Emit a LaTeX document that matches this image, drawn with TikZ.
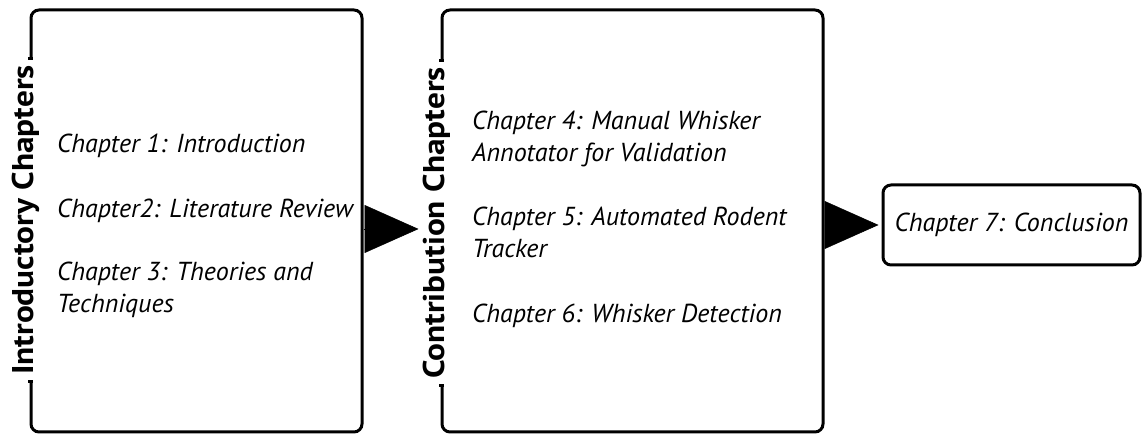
\documentclass[tikz,border=0pt]{standalone}
\usepackage{fontspec}
\setmainfont{PT Sans}
\newfontfamily\headfont[FakeStretch=1.11]{PT Sans}
\usetikzlibrary{arrows.meta,positioning}

\tikzset{
  part/.style={draw, line width=3pt, rounded corners=8pt, minimum height=422pt, inner sep=0pt},
  partlabel/.style={rotate=90, anchor=base, fill=white, inner xsep=6pt, inner ysep=2pt,
    font=\headfont\bfseries\fontsize{30}{32}\selectfont},
  chap/.style={anchor=base west, align=left, inner sep=0pt,
    font=\itshape\fontsize{26}{32.5}\selectfont},
  flow/.style={-{Triangle[length=54pt,width=48pt]}, line width=0.5pt},
  tick/.style={line width=3pt}
}

\begin{document}
\begin{tikzpicture}[x=1pt,y=1pt]
    \useasboundingbox (0,0) rectangle (1143,436);

    \node[part, minimum width=331pt] (intro) at (196.5,215) {};
    \node[part, minimum width=381pt] (contrib) at (632.5,215) {};
    \node[part, minimum width=257pt, minimum height=80pt,
        font=\itshape\fontsize{26}{30}\selectfont] (concl) at (1011.5,211) {Chapter 7: Conclusion};

    \node[partlabel] (introlab) at ([xshift=4pt,yshift=1pt]intro.west) {Introductory Chapters};
    \draw[tick] (introlab.east -| intro.west) ++(-1.5,0) -- ++(5,0);
    \draw[tick] (introlab.west -| intro.west) ++(-1.5,0) -- ++(5,0);

    \node[partlabel] (contriblab) at ([xshift=4pt,yshift=-2pt]contrib.west) {Contribution Chapters};
    \draw[tick] (contriblab.east -| contrib.west) ++(-1.5,0) -- ++(5,0);
    \draw[tick] (contriblab.west -| contrib.west) ++(-1.5,0) -- ++(5,0);

    \node[chap] (ch1) at (57,283) {Chapter 1: Introduction};
    \node[chap] (ch2) at (57,218) {Chapter2: Literature Review};
    \node[chap] (ch3) at (57,123) {Chapter 3: Theories and\\Techniques};

    \node[chap] (ch4) at (472,274) {Chapter 4: Manual Whisker\\Annotator for Validation};
    \node[chap] (ch5) at (472,178) {Chapter 5: Automated Rodent\\Tracker};
    \node[chap] (ch6) at (472,113) {Chapter 6: Whisker Detection};

    \draw[flow, shorten >=22pt] ([yshift=-8pt]intro.east) -- ([yshift=-8pt]contrib.west);
    \draw[flow, shorten >=3pt] (contrib.east |- concl.west) -- (concl.west);
\end{tikzpicture}
\end{document}
